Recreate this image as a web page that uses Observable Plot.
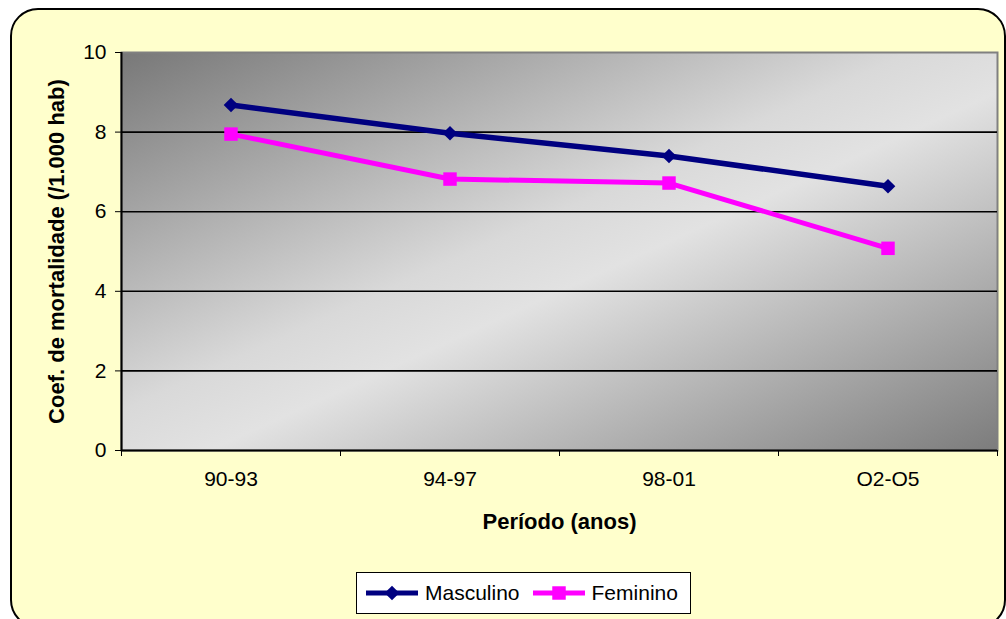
<!DOCTYPE html>
<html>
<head>
<meta charset="utf-8">
<script src="https://cdn.jsdelivr.net/npm/d3@7"></script>
<script src="https://cdn.jsdelivr.net/npm/@observablehq/plot@0.6"></script>
<style>
  html, body { margin: 0; padding: 0; background: #ffffff; }
  #wrap { position: relative; width: 1006px; height: 619px; overflow: hidden; background: #ffffff; font-family: "Liberation Sans", Arial, sans-serif; }
  #box { position: absolute; left: 10px; top: 8px; width: 996px; height: 620px; background: #ffffcc; border: 2px solid #000; border-radius: 28px; box-sizing: border-box; }
  #chart { position: absolute; left: 0; top: 0; }
  #legend { position: absolute; left: 356px; top: 572px; width: 335px; height: 42px; box-sizing: border-box; border: 1.5px solid #000; background: #fff; display: flex; align-items: center; padding-left: 7px; font-size: 21px; color: #000; }
  .item { display: flex; align-items: center; margin-right: 11px; }
  .item svg { margin-right: 5px; }
</style>
</head>
<body>
<div id="wrap">
  <div id="box"></div>
  <div id="chart"></div>
  <div id="legend"></div>
</div>
<script>
const categories = ["90-93", "94-97", "98-01", "O2-O5"];
const masculino = [8.68, 7.97, 7.40, 6.64];
const feminino = [7.95, 6.82, 6.72, 5.08];
const yTicks = [0, 2, 4, 6, 8, 10];
const seriesNames = ["Masculino", "Feminino"];
const seriesColors = ["#000080", "#ff00ff"];
const xTitle = "Período (anos)";
const yTitle = "Coef. de mortalidade (/1.000 hab)";

const mascData = categories.map((c, i) => ({serie: seriesNames[0], i, value: masculino[i]}));
const femData = categories.map((c, i) => ({serie: seriesNames[1], i, value: feminino[i]}));
const boundaries = d3.range(categories.length + 1).map(k => k - 0.5);

const font = '"Liberation Sans", Arial, sans-serif';
const rDiamond = 6.6, rSquare = 7.6;

const plot = Plot.plot({
  width: 1006,
  height: 560,
  marginLeft: 121,
  marginRight: 9,
  marginTop: 52,
  marginBottom: 110,
  style: {fontFamily: font, fontSize: "21px", color: "#000", background: "transparent", overflow: "visible"},
  x: {type: "linear", domain: [-0.5, categories.length - 0.5]},
  y: {domain: [0, 10]},
  marks: [
    Plot.frame({fill: "url(#bgGrad)", stroke: "#808080", strokeWidth: 2}),
    Plot.ruleY([2, 4, 6, 8], {stroke: "#000", strokeWidth: 1.6}),
    Plot.ruleX([boundaries[0]], {stroke: "#000", strokeWidth: 2}),
    Plot.ruleY([0], {stroke: "#000", strokeWidth: 2}),
    Plot.axisY({ticks: yTicks, tickSize: 6, tickPadding: 9, label: null, tickFormat: d => String(d), fontSize: 21, stroke: "#000"}),
    Plot.axisX({ticks: boundaries, tickSize: 6, tickFormat: () => "", label: null, stroke: "#000"}),
    Plot.axisX({ticks: d3.range(categories.length), tickSize: 0, tickPadding: 21, tickFormat: i => categories[i], label: null, fontSize: 21}),
    Plot.text([yTitle], {frameAnchor: "left", textAnchor: "middle", lineAnchor: "middle", rotate: -90, dx: -65, fontWeight: "bold", fontSize: 22}),
    Plot.text([xTitle], {frameAnchor: "bottom", textAnchor: "middle", lineAnchor: "middle", dy: 71, fontWeight: "bold", fontSize: 22}),
    Plot.line(mascData, {x: "i", y: "value", stroke: seriesColors[0], strokeWidth: 5.5}),
    Plot.line(femData, {x: "i", y: "value", stroke: seriesColors[1], strokeWidth: 5}),
    Plot.dot(mascData, {x: "i", y: "value", fill: seriesColors[0], symbol: "diamond2", r: rDiamond, stroke: "none"}),
    Plot.dot(femData, {x: "i", y: "value", fill: seriesColors[1], symbol: "square", r: rSquare, stroke: "none"})
  ]
});

// gradient background for the plot area
const svg = d3.select(plot);
const defs = svg.insert("defs", ":first-child");
const grad = defs.append("linearGradient").attr("id", "bgGrad")
  .attr("x1", 0).attr("y1", 0).attr("x2", 1).attr("y2", 1);
[[0, "#787878"], [0.45, "#d9d9d9"], [0.55, "#e2e2e2"], [1, "#7c7c7c"]].forEach(([o, c]) =>
  grad.append("stop").attr("offset", o).attr("stop-color", c));

document.getElementById("chart").appendChild(plot);

// legend
const legend = d3.select("#legend");
seriesNames.forEach((name, k) => {
  const item = legend.append("div").attr("class", "item");
  const s = item.append("svg").attr("width", 56).attr("height", 20);
  s.append("line").attr("x1", 2).attr("x2", 54).attr("y1", 10).attr("y2", 10)
    .attr("stroke", seriesColors[k]).attr("stroke-width", 5);
  s.append("path").attr("transform", "translate(28,10)")
    .attr("d", d3.symbol(k === 0 ? d3.symbolDiamond2 : d3.symbolSquare, k === 0 ? Math.PI * rDiamond * rDiamond : Math.PI * rSquare * rSquare)())
    .attr("fill", seriesColors[k]);
  item.append("span").text(name);
});
</script>
</body>
</html>
